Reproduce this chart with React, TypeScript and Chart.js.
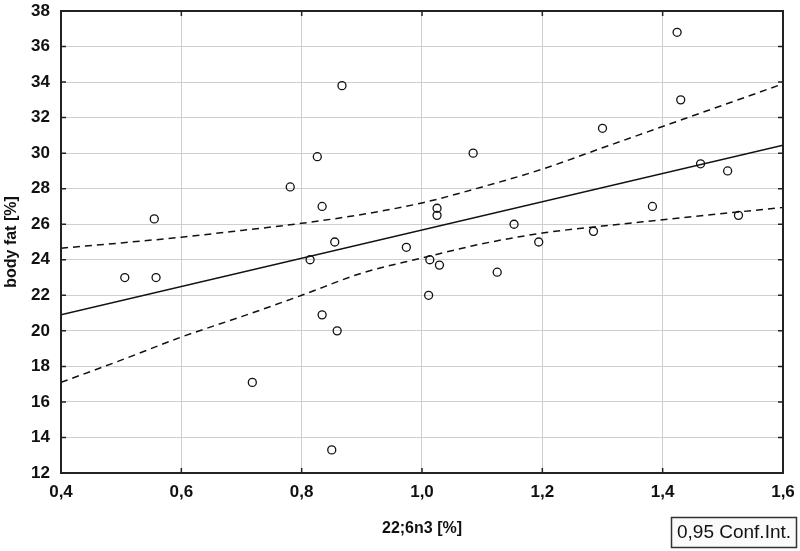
import React, { useEffect, useRef } from "react";
import { Chart, registerables } from "chart.js";

Chart.register(...registerables);

// Scatter points: 22;6n3 [%] vs body fat [%]
const pointX = [0.506, 0.555, 0.558, 0.718, 0.781, 0.814, 0.826, 0.834, 0.834, 0.855, 0.859, 0.867, 0.850, 0.974, 1.011, 1.013, 1.029, 1.025, 1.025, 1.085, 1.125, 1.153, 1.194, 1.285, 1.300, 1.383, 1.424, 1.430, 1.463, 1.508, 1.526];
const pointY = [23.0, 26.3, 23.0, 17.1, 28.1, 24.0, 29.8, 27.0, 20.9, 25.0, 20.0, 33.8, 13.3, 24.7, 22.0, 24.0, 23.7, 26.9, 26.5, 30.0, 23.3, 26.0, 25.0, 25.6, 31.4, 27.0, 36.8, 33.0, 29.4, 29.0, 26.5];

// Regression line end points
const fitX = [0.4, 1.6];
const fitY = [20.9, 30.44];

// 0.95 confidence band
const bandX = [0.4, 0.5, 0.6, 0.7, 0.8, 0.9, 1.0, 1.1, 1.2, 1.3, 1.4, 1.5, 1.6];
const upperBand = [24.65, 24.95, 25.27, 25.65, 26.05, 26.55, 27.2, 28.1, 29.1, 30.3, 31.5, 32.7, 33.9];
const lowerBand = [17.1, 18.35, 19.65, 20.8, 22.0, 23.25, 24.1, 24.9, 25.5, 25.9, 26.25, 26.6, 26.95];

const xTitle = "22;6n3 [%]";
const yTitle = "body fat [%]";
const legendText = "0,95 Conf.Int.";

const FONT = '"Liberation Sans", Arial, sans-serif';

const zip = (xs: number[], ys: number[]) => xs.map((x, i) => ({ x, y: ys[i] }));

export default function App() {
  const ref = useRef<HTMLCanvasElement>(null);

  useEffect(() => {
    if (!ref.current) return;

    const framePlugin = {
      id: "frame",
      afterDraw(chart: any) {
        const { ctx, chartArea: a, scales } = chart;
        ctx.save();
        // inward ticks
        ctx.strokeStyle = "#222";
        ctx.lineWidth = 1.5;
        const tl = 5;
        scales.x.ticks.forEach((t: any) => {
          const px = scales.x.getPixelForValue(t.value);
          ctx.beginPath();
          ctx.moveTo(px, a.bottom);
          ctx.lineTo(px, a.bottom - tl);
          ctx.moveTo(px, a.top);
          ctx.lineTo(px, a.top + tl);
          ctx.stroke();
        });
        scales.y.ticks.forEach((t: any) => {
          const py = scales.y.getPixelForValue(t.value);
          ctx.beginPath();
          ctx.moveTo(a.left, py);
          ctx.lineTo(a.left + tl, py);
          ctx.moveTo(a.right, py);
          ctx.lineTo(a.right - tl, py);
          ctx.stroke();
        });
        // frame
        ctx.strokeStyle = "#222";
        ctx.lineWidth = 2;
        ctx.strokeRect(a.left, a.top, a.right - a.left, a.bottom - a.top);

        // axis titles
        ctx.fillStyle = "#111";
        ctx.font = `bold 16px ${FONT}`;
        ctx.textAlign = "center";
        ctx.textBaseline = "middle";
        ctx.fillText(xTitle, (a.left + a.right) / 2, 529);
        ctx.save();
        ctx.translate(12, (a.top + a.bottom) / 2);
        ctx.rotate(-Math.PI / 2);
        ctx.fillText(yTitle, 0, 0);
        ctx.restore();

        // legend box
        ctx.fillStyle = "#fafafa";
        ctx.fillRect(671.5, 517.5, 125, 30);
        ctx.strokeStyle = "#333";
        ctx.lineWidth = 1.5;
        ctx.strokeRect(671.5, 517.5, 125, 30);
        ctx.fillStyle = "#111";
        ctx.font = `19px ${FONT}`;
        ctx.fillText(legendText, 734, 532.5);
        ctx.restore();
      },
    };

    const chart = new Chart(ref.current, {
      type: "scatter",
      data: {
        datasets: [
          {
            type: "line",
            data: zip(bandX, upperBand),
            borderColor: "#111",
            borderWidth: 1.5,
            borderDash: [7, 5],
            pointRadius: 0,
            fill: false,
            cubicInterpolationMode: "monotone",
          },
          {
            type: "line",
            data: zip(bandX, lowerBand),
            borderColor: "#111",
            borderWidth: 1.5,
            borderDash: [7, 5],
            pointRadius: 0,
            fill: false,
            cubicInterpolationMode: "monotone",
          },
          {
            type: "line",
            data: zip(fitX, fitY),
            borderColor: "#111",
            borderWidth: 1.5,
            pointRadius: 0,
            fill: false,
          },
          {
            type: "scatter",
            data: zip(pointX, pointY),
            pointStyle: "circle",
            pointRadius: 4,
            borderColor: "#111",
            borderWidth: 1.3,
            backgroundColor: "rgba(255,255,255,0)",
          },
        ],
      } as any,
      options: {
        responsive: false,
        animation: false,
        layout: { padding: { left: 0, right: 17, top: 11, bottom: 0 } },
        plugins: {
          legend: { display: false },
          tooltip: { enabled: false },
        },
        scales: {
          x: {
            type: "linear",
            min: 0.4,
            max: 1.6,
            border: { display: false },
            grid: { color: "#cfcfcf", lineWidth: 1, drawTicks: false },
            ticks: {
              stepSize: 0.2,
              padding: 9,
              color: "#111",
              font: { family: FONT, size: 17, weight: "bold" },
              maxRotation: 0,
              callback: (v: any) => Number(v).toFixed(1).replace(".", ","),
            },
            afterFit: (s: any) => {
              s.height = 78;
              s.paddingLeft = 0;
              s.paddingRight = 0;
            },
          },
          y: {
            type: "linear",
            min: 12,
            max: 38,
            border: { display: false },
            grid: { color: "#cfcfcf", lineWidth: 1, drawTicks: false },
            ticks: {
              stepSize: 2,
              padding: 11,
              color: "#111",
              font: { family: FONT, size: 17, weight: "bold" },
              callback: (v: any) => String(v),
            },
            afterFit: (s: any) => {
              s.width = 61;
              s.paddingTop = 0;
              s.paddingBottom = 0;
            },
          },
        },
      } as any,
      plugins: [framePlugin],
    });

    return () => chart.destroy();
  }, []);

  return (
    <div style={{ position: "absolute", left: 0, top: 0, width: 800, height: 551, background: "#fff" }}>
      <canvas ref={ref} width={800} height={551} />
    </div>
  );
}
